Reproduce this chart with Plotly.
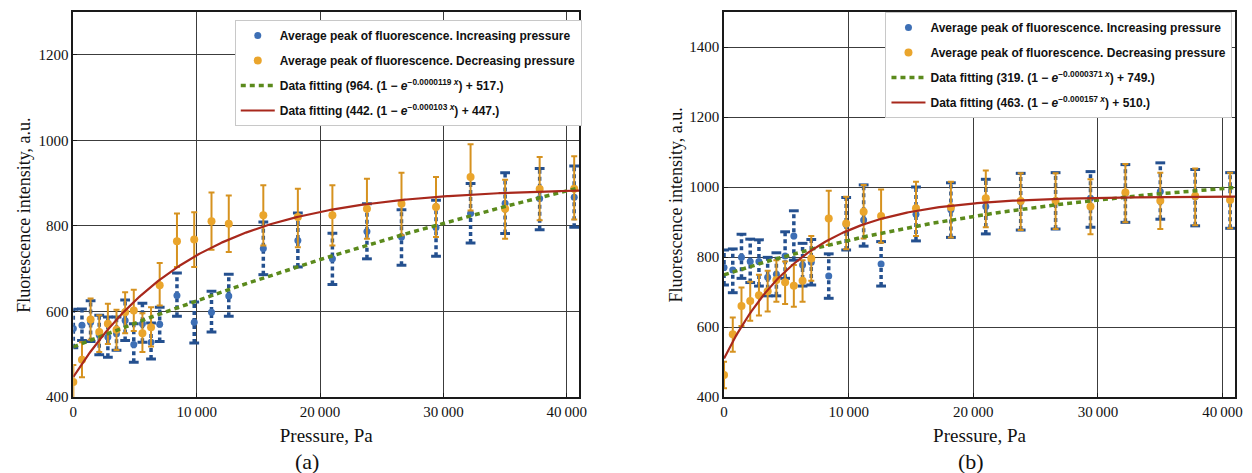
import numpy as np
import plotly.graph_objects as go

# Pressure steps (Pa) shared by both measurement series
pressure = [0, 700, 1400, 2100, 2800, 3500, 4200, 4900, 5600, 6300, 7000,
            8400, 9800, 11200, 12600, 15400, 18200, 21000, 23800, 26600,
            29400, 32200, 35000, 37800, 40600]

# Panel (a): increasing pressure - mean, lower and upper bound
a_inc_mean = [560, 568, 575, 545, 540, 548, 579, 523, 571, 528, 570,
              637, 575, 598, 636, 747, 766, 723, 787, 774, 796, 829, 853, 864, 867]
a_inc_lo = [515, 532, 530, 499, 493, 509, 532, 481, 528, 489, 530,
            589, 526, 552, 589, 686, 704, 663, 723, 708, 729, 760, 782, 791, 797]
a_inc_hi = [605, 606, 625, 591, 587, 587, 627, 571, 619, 573, 610,
            690, 622, 647, 687, 809, 830, 783, 852, 838, 860, 899, 924, 934, 940]

# Panel (a): decreasing pressure
a_dec_mean = [435, 487, 581, 552, 571, 557, 598, 602, 549, 563, 661,
              764, 768, 811, 805, 825, 821, 825, 840, 852, 844, 914, 840, 886, 887]
a_dec_lo = [395, 446, 534, 505, 524, 510, 549, 554, 505, 518, 614,
            704, 704, 744, 739, 754, 750, 754, 770, 778, 774, 836, 770, 813, 815]
a_dec_hi = [475, 528, 630, 591, 618, 604, 645, 651, 596, 610, 713,
            829, 832, 878, 871, 895, 887, 895, 910, 924, 914, 991, 908, 961, 963]

# Panel (b): increasing pressure
b_inc_mean = [770, 763, 799, 787, 787, 742, 751, 803, 860, 777, 785,
              746, 893, 906, 780, 922, 935, 944, 958, 960, 968, 982, 987, 972, 963]
b_inc_lo = [720, 698, 739, 727, 717, 689, 689, 739, 791, 717, 720,
            682, 820, 831, 717, 846, 856, 866, 877, 880, 885, 899, 908, 889, 882]
b_inc_hi = [820, 823, 865, 851, 849, 799, 812, 872, 932, 839, 850,
            809, 970, 1006, 844, 1000, 1012, 1022, 1039, 1041, 1044, 1064, 1069, 1050, 1041]

# Panel (b): decreasing pressure
b_dec_mean = [463, 579, 660, 674, 691, 702, 734, 728, 718, 732, 796,
              910, 896, 929, 917, 939, 942, 968, 960, 960, 944, 984, 961, 974, 963]
b_dec_lo = [425, 529, 603, 618, 633, 644, 672, 666, 658, 672, 732,
            834, 822, 853, 841, 860, 856, 885, 877, 880, 865, 899, 880, 891, 882]
b_dec_hi = [501, 627, 713, 729, 749, 761, 791, 787, 777, 791, 860,
            989, 972, 1006, 993, 1015, 1015, 1047, 1039, 1039, 1022, 1066, 1041, 1053, 1041]

# Exponential fit parameters: A * (1 - exp(-k x)) + C
fit_a_inc = (964.0, 0.0000119, 517.0)
fit_a_dec = (442.0, 0.000103, 447.0)
fit_b_inc = (319.0, 0.0000371, 749.0)
fit_b_dec = (463.0, 0.000157, 510.0)

fit_labels_a = ["Data fitting (964. (1 − <i>e</i><sup>−0.0000119 <i>x</i></sup>) + 517.)",
                "Data fitting (442. (1 − <i>e</i><sup>−0.000103 <i>x</i></sup>) + 447.)"]
fit_labels_b = ["Data fitting (319. (1 − <i>e</i><sup>−0.0000371 <i>x</i></sup>) + 749.)",
                "Data fitting (463. (1 − <i>e</i><sup>−0.000157 <i>x</i></sup>) + 510.)"]

x_ticks = [0, 10000, 20000, 30000, 40000]
x_ticktext = ["0", "10\u2009000", "20\u2009000", "30\u2009000", "40\u2009000"]

BLUE_BAR = "#24508f"
BLUE_DOT = "#3d6fb5"
ORANGE_BAR = "#d6921f"
ORANGE_DOT = "#eaa52c"
GREEN = "#5b8a1c"
RED = "#a8281c"

SERIF = "Liberation Serif, Times New Roman, serif"
SANS = "Liberation Sans, Arial, sans-serif"

fig = go.Figure()


def fit_curve(params, xs):
    A, k, C = params
    return A * (1.0 - np.exp(-k * xs)) + C


def add_panel(xa, ya, legend, inc, dec, fits, labels):
    inc_mean, inc_lo, inc_hi = inc
    dec_mean, dec_lo, dec_hi = dec
    # dashed error bars for the increasing series
    bx, by = [], []
    for p, lo, hi in zip(pressure, inc_lo, inc_hi):
        bx += [p, p, None]
        by += [lo, hi, None]
    fig.add_trace(go.Scatter(x=bx, y=by, mode="lines", xaxis=xa, yaxis=ya,
                             line=dict(color=BLUE_BAR, width=3.5, dash="4px,3px"),
                             showlegend=False, hoverinfo="skip", legend=legend))
    fig.add_trace(go.Scatter(x=pressure + pressure, y=inc_lo + inc_hi, mode="markers",
                             xaxis=xa, yaxis=ya, legend=legend, showlegend=False,
                             hoverinfo="skip",
                             marker=dict(symbol="line-ew", size=7,
                                         line=dict(color=BLUE_BAR, width=3))))
    fig.add_trace(go.Scatter(x=pressure, y=inc_mean, mode="markers", xaxis=xa, yaxis=ya,
                             legend=legend, legendgroup=legend + "1",
                             name="Average peak of fluorescence. Increasing pressure",
                             marker=dict(color=BLUE_DOT, size=7)))
    dec_up = [h - m for h, m in zip(dec_hi, dec_mean)]
    dec_dn = [m - l for m, l in zip(dec_mean, dec_lo)]
    fig.add_trace(go.Scatter(x=pressure, y=dec_mean, mode="markers", xaxis=xa, yaxis=ya,
                             legend=legend, legendgroup=legend + "2",
                             name="Average peak of fluorescence. Decreasing pressure",
                             marker=dict(color=ORANGE_DOT, size=8),
                             error_y=dict(type="data", symmetric=False, array=dec_up,
                                          arrayminus=dec_dn, color=ORANGE_BAR,
                                          thickness=2, width=3)))
    xs = np.linspace(0, 41000, 300)
    fig.add_trace(go.Scatter(x=xs, y=fit_curve(fits[0], xs), mode="lines",
                             xaxis=xa, yaxis=ya, legend=legend, legendgroup=legend + "3",
                             name=labels[0],
                             line=dict(color=GREEN, width=3.5, dash="5px,4px")))
    fig.add_trace(go.Scatter(x=xs, y=fit_curve(fits[1], xs), mode="lines",
                             xaxis=xa, yaxis=ya, legend=legend, legendgroup=legend + "4",
                             name=labels[1],
                             line=dict(color=RED, width=2.2)))


add_panel("x", "y", "legend", (a_inc_mean, a_inc_lo, a_inc_hi),
          (a_dec_mean, a_dec_lo, a_dec_hi), (fit_a_inc, fit_a_dec), fit_labels_a)
add_panel("x2", "y2", "legend2", (b_inc_mean, b_inc_lo, b_inc_hi),
          (b_dec_mean, b_dec_lo, b_dec_hi), (fit_b_inc, fit_b_dec), fit_labels_b)

W, H = 1252, 473
PLOT_H = 385

axis_common = dict(showline=True, mirror=True, linecolor="#1a1a1a", linewidth=1.5,
                   showgrid=True, gridcolor="#3c3c3c", gridwidth=1.2, zeroline=False,
                   ticks="inside", ticklen=4, tickcolor="#1a1a1a",
                   tickfont=dict(family=SERIF, size=15, color="#111"))

legend_common = dict(bgcolor="white", bordercolor="#c8c8c8", borderwidth=1,
                     font=dict(family=SANS, size=12, color="#111", weight="bold"),
                     xanchor="left", yanchor="top", itemwidth=34,
                     tracegroupgap=6, traceorder="grouped")

title_font = dict(family=SERIF, size=19, color="#111")
ytitle = "Fluorescence intensity, a.u."


def paper_y(px):
    # convert a pixel row below the top margin to paper coordinates
    return 1 - (px - 12) / PLOT_H


fig.update_layout(
    width=W, height=H,
    margin=dict(l=0, r=0, t=12, b=76),
    paper_bgcolor="white", plot_bgcolor="white",
    xaxis=dict(domain=[70 / W, 580.7 / W], range=[0, 41000], tickvals=x_ticks,
               ticktext=x_ticktext, anchor="y",
               title=dict(text="Pressure, Pa", font=title_font, standoff=10),
               **axis_common),
    yaxis=dict(domain=[0, 1], range=[400, 1300], tickvals=[400, 600, 800, 1000, 1200],
               anchor="x", **axis_common),
    xaxis2=dict(domain=[727 / W, 1243 / W], range=[0, 41000], tickvals=x_ticks,
                ticktext=x_ticktext, anchor="y2",
                title=dict(text="Pressure, Pa", font=title_font, standoff=10),
                **axis_common),
    yaxis2=dict(domain=[0, 1], range=[400, 1500],
                tickvals=[400, 600, 800, 1000, 1200, 1400], anchor="x2",
                **axis_common),
    legend=dict(x=233 / W, y=paper_y(20), **legend_common),
    legend2=dict(x=890 / W, y=1.0, **legend_common),
    annotations=[
        dict(text=ytitle, x=20 / W, y=paper_y(215), xref="paper", yref="paper",
             textangle=-90, showarrow=False, font=dict(family=SERIF, size=18, color="#111"),
             xanchor="center", yanchor="middle"),
        dict(text=ytitle, x=679 / W, y=paper_y(205), xref="paper", yref="paper",
             textangle=-90, showarrow=False, font=dict(family=SERIF, size=18, color="#111"),
             xanchor="center", yanchor="middle"),
        dict(text="(a)", x=306 / W, y=paper_y(461), xref="paper", yref="paper",
             showarrow=False, font=dict(family=SERIF, size=22, color="#111"),
             xanchor="center", yanchor="middle"),
        dict(text="(b)", x=976 / W, y=paper_y(461), xref="paper", yref="paper",
             showarrow=False, font=dict(family=SERIF, size=22, color="#111"),
             xanchor="center", yanchor="middle"),
    ],
    showlegend=True,
)

fig.write_html("out.html")
